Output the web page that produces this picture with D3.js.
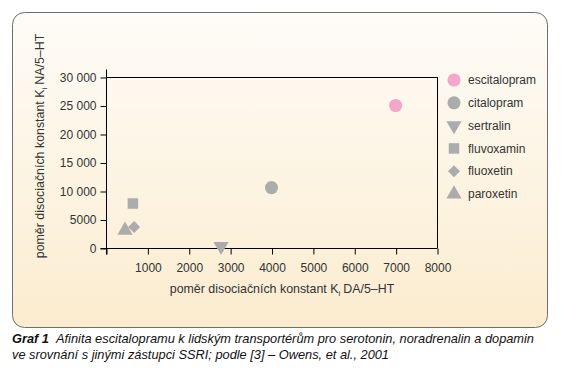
<!DOCTYPE html>
<html>
<head>
<meta charset="utf-8">
<script src="https://cdn.jsdelivr.net/npm/d3@7"></script>
<style>
  body { margin: 0; background: #fff; }
  svg { display: block; font-family: "Liberation Sans", Arial, Helvetica, sans-serif; }
</style>
</head>
<body>
<div class="container"></div>
<script>
// data
var drugs = ["escitalopram", "citalopram", "sertralin", "fluvoxamin", "fluoxetin", "paroxetin"];
var daRatio = [7000, 4000, 2780, 650, 680, 460];      // Ki DA/5-HT
var naRatio = [25000, 10600, 300, 7800, 3700, 3100];  // Ki NA/5-HT
var shapes = ["circle", "circle", "triangleDown", "square", "diamond", "triangle"];
var colors = ["#f4a8c7", "#acacac", "#acacac", "#acacac", "#acacac", "#acacac"];
var xTicks = [0, 1000, 2000, 3000, 4000, 5000, 6000, 7000, 8000];
var yTicks = [0, 5000, 10000, 15000, 20000, 25000, 30000];

var W = 561, H = 391;
var svg = d3.select(".container").append("svg")
    .attr("width", W).attr("height", H);

var defs = svg.append("defs");
var grad = defs.append("linearGradient").attr("id", "bg")
    .attr("x1", 0).attr("y1", 0).attr("x2", 0).attr("y2", 1);
grad.append("stop").attr("offset", "0%").attr("stop-color", "#fefcf8");
grad.append("stop").attr("offset", "100%").attr("stop-color", "#fbeccf");

// panel
svg.append("rect")
    .attr("x", 12.5).attr("y", 12.5)
    .attr("width", 535).attr("height", 315)
    .attr("rx", 12).attr("ry", 12)
    .attr("fill", "url(#bg)")
    .attr("stroke", "#6e6e6e").attr("stroke-width", 1);

var x = d3.scaleLinear().domain([0, 8000]).range([106, 437]);
var y = d3.scaleLinear().domain([0, 30000]).range([248, 77]);

function fmtY(d) {
    return d >= 10000 ? d3.format(",")(d).replace(/,/g, " ") : String(d);
}

// frame: top and right
svg.append("line").attr("x1", x(0)).attr("x2", x(8000)).attr("y1", y(30000) + 0.5).attr("y2", y(30000) + 0.5)
    .attr("stroke", "#000");
svg.append("line").attr("x1", x(8000) + 0.5).attr("x2", x(8000) + 0.5).attr("y1", y(30000)).attr("y2", y(0))
    .attr("stroke", "#000");

var xAxis = svg.append("g")
    .attr("transform", `translate(0.5, ${y(0) + 0.5})`)
    .call(d3.axisBottom(x).tickValues(xTicks).tickSize(6).tickSizeOuter(0)
        .tickFormat(d => d === 0 ? "" : String(d)));
xAxis.select(".domain").attr("d", `M${x(0) - 6},0H${x(8000)}`);

var yAxis = svg.append("g")
    .attr("transform", `translate(${x(0) + 0.5}, 0.5)`)
    .call(d3.axisLeft(y).tickValues(yTicks).tickSize(6).tickSizeOuter(0).tickFormat(fmtY));
yAxis.select(".domain").attr("d", `M0,${y(30000) - 8}V${y(0) + 6}`);

svg.selectAll(".tick text")
    .attr("fill", "#333")
    .style("font-size", "12px");
svg.selectAll(".domain, .tick line").attr("stroke", "#000");
xAxis.selectAll(".tick text").attr("dy", "1.2em");
yAxis.selectAll(".tick text").attr("x", -10);

function symbolOf(s) {
    return {
        circle: d3.symbolCircle,
        square: d3.symbolSquare,
        diamond: d3.symbolSquare,
        triangle: d3.symbolTriangle,
        triangleDown: d3.symbolTriangle
    }[s];
}
function sizeOf(s) {
    return { circle: 135, square: 110, diamond: 72, triangle: 100, triangleDown: 100 }[s];
}
function rotOf(s) { return s === "triangleDown" ? 180 : s === "diamond" ? 45 : 0; }

// points
svg.append("g").selectAll("path")
    .data(drugs)
    .enter()
    .append("path")
    .attr("d", (d, i) => d3.symbol().type(symbolOf(shapes[i])).size(sizeOf(shapes[i]))())
    .attr("transform", (d, i) => `translate(${x(daRatio[i])}, ${y(naRatio[i])}) rotate(${rotOf(shapes[i])})`)
    .attr("fill", (d, i) => colors[i]);

// legend
var legend = svg.append("g").attr("transform", "translate(454, 80)");
var rowH = 22.8;
legend.selectAll("path")
    .data(drugs)
    .enter()
    .append("path")
    .attr("d", (d, i) => d3.symbol().type(symbolOf(shapes[i])).size(sizeOf(shapes[i]))())
    .attr("transform", (d, i) => `translate(0, ${i * rowH}) rotate(${rotOf(shapes[i])})`)
    .attr("fill", (d, i) => colors[i]);
legend.selectAll("text")
    .data(drugs)
    .enter()
    .append("text")
    .attr("x", 14)
    .attr("y", (d, i) => i * rowH)
    .attr("dy", "0.35em")
    .attr("fill", "#333")
    .style("font-size", "12px")
    .text(d => d);

// axis titles
var xt = svg.append("text")
    .attr("x", 282).attr("y", 293)
    .attr("text-anchor", "middle")
    .attr("fill", "#333")
    .style("font-size", "12.4px");
xt.append("tspan").text("poměr disociačních konstant K");
xt.append("tspan").attr("dy", 3).style("font-size", "8px").text("i");
xt.append("tspan").attr("dy", -3).attr("dx", 3).text("DA/5–HT");

var yt = svg.append("text")
    .attr("transform", "translate(44, 146) rotate(-90)")
    .attr("text-anchor", "middle")
    .attr("fill", "#333")
    .style("font-size", "12.4px");
yt.append("tspan").text("poměr disociačních konstant K");
yt.append("tspan").attr("dy", 3).style("font-size", "8px").text("i");
yt.append("tspan").attr("dy", -3).attr("dx", 3).text("NA/5–HT");

// caption
var cap = svg.append("g").style("font-size", "12.8px").style("font-style", "italic").attr("fill", "#111");
var l1 = cap.append("text").attr("x", 12).attr("y", 343);
l1.append("tspan").style("font-weight", "bold").text("Graf 1");
l1.append("tspan").attr("dx", 7).text("Afinita escitalopramu k lidským transportérům pro serotonin, noradrenalin a dopamin");
cap.append("text").attr("x", 12).attr("y", 359)
    .text("ve srovnání s jinými zástupci SSRI; podle [3] – Owens, et al., 2001");
</script>
</body>
</html>
